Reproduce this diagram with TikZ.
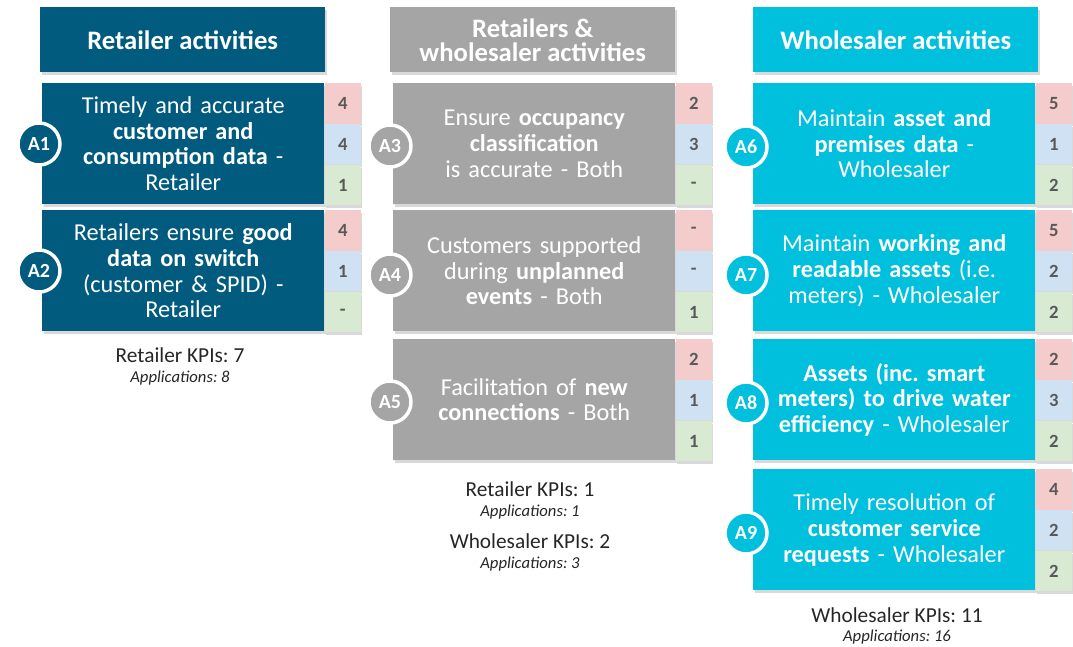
\documentclass[tikz,border=0pt]{standalone}
\usepackage{fontspec}
\setmainfont{Carlito}
\usepackage{tikz}
\usetikzlibrary{shadows, positioning}
\frenchspacing

\definecolor{retblue}{HTML}{005B7F}
\definecolor{bothgray}{HTML}{A5A5A5}
\definecolor{wscyan}{HTML}{00C0DE}
\definecolor{kpired}{HTML}{F4CCCC}
\definecolor{kpiblue}{HTML}{CFE2F3}
\definecolor{kpigreen}{HTML}{D9EAD3}
\definecolor{kpitext}{HTML}{595959}

\tikzset{
  boxshadow/.style={drop shadow={shadow xshift=1pt, shadow yshift=-2pt, opacity=0.3}},
  heading/.style={anchor=north west, minimum width=213.75pt, minimum height=48.75pt, inner sep=0pt,
    text=white, align=center, font=\bfseries\fontsize{20}{18}\selectfont, boxshadow},
  activity/.style={anchor=north west, minimum width=211.5pt, minimum height=90.75pt, inner sep=0pt,
    text width=205pt, align=center, text=white, font=\fontsize{18.2}{19.3}\selectfont, boxshadow},
  score/.style={anchor=north west, minimum width=27pt, minimum height=30.25pt, inner sep=0pt,
    text=kpitext, font=\bfseries\fontsize{14}{14}\selectfont, boxshadow},
  tag/.style={circle, draw=white, line width=2.6pt, minimum size=31.5pt, inner sep=0pt,
    text=white, font=\bfseries\fontsize{15}{15}\selectfont},
  kpis/.style={font=\fontsize{16}{16}\selectfont, text=black!85},
  apps/.style={font=\itshape\fontsize{12.5}{12.5}\selectfont, text=black!85}
}

\begin{document}
\begin{tikzpicture}[x=0.75pt, y=-0.75pt]
        \useasboundingbox (0,0) rectangle (1073,646);

        % Headers
        \node[heading, fill=retblue] (hret) at (40,7) {Retailer activities};
        \node[heading, fill=bothgray] (hboth) at (390,7) {Retailers \&\\wholesaler activities};
        \node[heading, fill=wscyan] (hws) at (753,7) {Wholesaler activities};

        % Retailer activities
        \node[activity, fill=retblue] (a1) at (42,83) {Timely and accurate\\\textbf{customer and}\\\textbf{consumption data} -\\Retailer};
        \node[score, fill=kpired] (a1r) at (a1.north east) {4};
        \node[score, fill=kpiblue] (a1b) at (a1r.south west) {4};
        \node[score, fill=kpigreen] (a1g) at (a1b.south west) {1};

        \node[activity, fill=retblue] (a2) at (42,210) {Retailers ensure \textbf{good}\\\textbf{data on switch}\\(customer \& SPID) -\\Retailer};
        \node[score, fill=kpired] (a2r) at (a2.north east) {4};
        \node[score, fill=kpiblue] (a2b) at (a2r.south west) {1};
        \node[score, fill=kpigreen] (a2g) at (a2b.south west) {-};

        % Retailers & wholesaler activities
        \node[activity, fill=bothgray] (a3) at (393,83) {Ensure \textbf{occupancy}\\\textbf{classification}\\is accurate - Both};
        \node[score, fill=kpired] (a3r) at (a3.north east) {2};
        \node[score, fill=kpiblue] (a3b) at (a3r.south west) {3};
        \node[score, fill=kpigreen] (a3g) at (a3b.south west) {-};

        \node[activity, fill=bothgray] (a4) at (393,210) {Customers supported\\during \textbf{unplanned}\\\textbf{events} - Both};
        \node[score, fill=kpired] (a4r) at (a4.north east) {-};
        \node[score, fill=kpiblue] (a4b) at (a4r.south west) {-};
        \node[score, fill=kpigreen] (a4g) at (a4b.south west) {1};

        \node[activity, fill=bothgray] (a5) at (393,339) {Facilitation of \textbf{new}\\\textbf{connections} - Both};
        \node[score, fill=kpired] (a5r) at (a5.north east) {2};
        \node[score, fill=kpiblue] (a5b) at (a5r.south west) {1};
        \node[score, fill=kpigreen] (a5g) at (a5b.south west) {1};

        % Wholesaler activities
        \node[activity, fill=wscyan] (a6) at (753,83) {Maintain \textbf{asset and}\\\textbf{premises data} -\\Wholesaler};
        \node[score, fill=kpired] (a6r) at (a6.north east) {5};
        \node[score, fill=kpiblue] (a6b) at (a6r.south west) {1};
        \node[score, fill=kpigreen] (a6g) at (a6b.south west) {2};

        \node[activity, fill=wscyan] (a7) at (753,210) {Maintain \textbf{working and}\\\textbf{readable assets} (i.e.\\meters) - Wholesaler};
        \node[score, fill=kpired] (a7r) at (a7.north east) {5};
        \node[score, fill=kpiblue] (a7b) at (a7r.south west) {2};
        \node[score, fill=kpigreen] (a7g) at (a7b.south west) {2};

        \node[activity, fill=wscyan] (a8) at (753,339) {\textbf{Assets (inc. smart}\\\textbf{meters) to drive water}\\\textbf{efficiency} - Wholesaler};
        \node[score, fill=kpired] (a8r) at (a8.north east) {2};
        \node[score, fill=kpiblue] (a8b) at (a8r.south west) {3};
        \node[score, fill=kpigreen] (a8g) at (a8b.south west) {2};

        \node[activity, fill=wscyan] (a9) at (753,469) {Timely resolution of\\\textbf{customer service}\\\textbf{requests} - Wholesaler};
        \node[score, fill=kpired] (a9r) at (a9.north east) {4};
        \node[score, fill=kpiblue] (a9b) at (a9r.south west) {2};
        \node[score, fill=kpigreen] (a9g) at (a9b.south west) {2};

        % Tags
        \node[tag, fill=retblue] (t1) at (39,144) {A1};
        \node[tag, fill=retblue] (t2) at (39,271) {A2};
        \node[tag, fill=bothgray] (t3) at (390,146) {A3};
        \node[tag, fill=bothgray] (t4) at (390,275) {A4};
        \node[tag, fill=bothgray] (t5) at (390,402) {A5};
        \node[tag, fill=wscyan] (t6) at (746,147) {A6};
        \node[tag, fill=wscyan] (t7) at (746,275) {A7};
        \node[tag, fill=wscyan] (t8) at (746,403) {A8};
        \node[tag, fill=wscyan] (t9) at (746,533) {A9};

        % KPI counts
        \node[kpis] (k1) at (180,355) {Retailer KPIs: 7};
        \node[apps] (p1) at (180,378) {Applications: 8};
        \node[kpis] (k2) at (530,489) {Retailer KPIs: 1};
        \node[apps] (p2) at (530,512) {Applications: 1};
        \node[kpis] (k3) at (530,541) {Wholesaler KPIs: 2};
        \node[apps] (p3) at (530,564) {Applications: 3};
        \node[kpis] (k4) at (897,615) {Wholesaler KPIs: 11};
        \node[apps] (p4) at (897,637) {Applications: 16};
\end{tikzpicture}
\end{document}
